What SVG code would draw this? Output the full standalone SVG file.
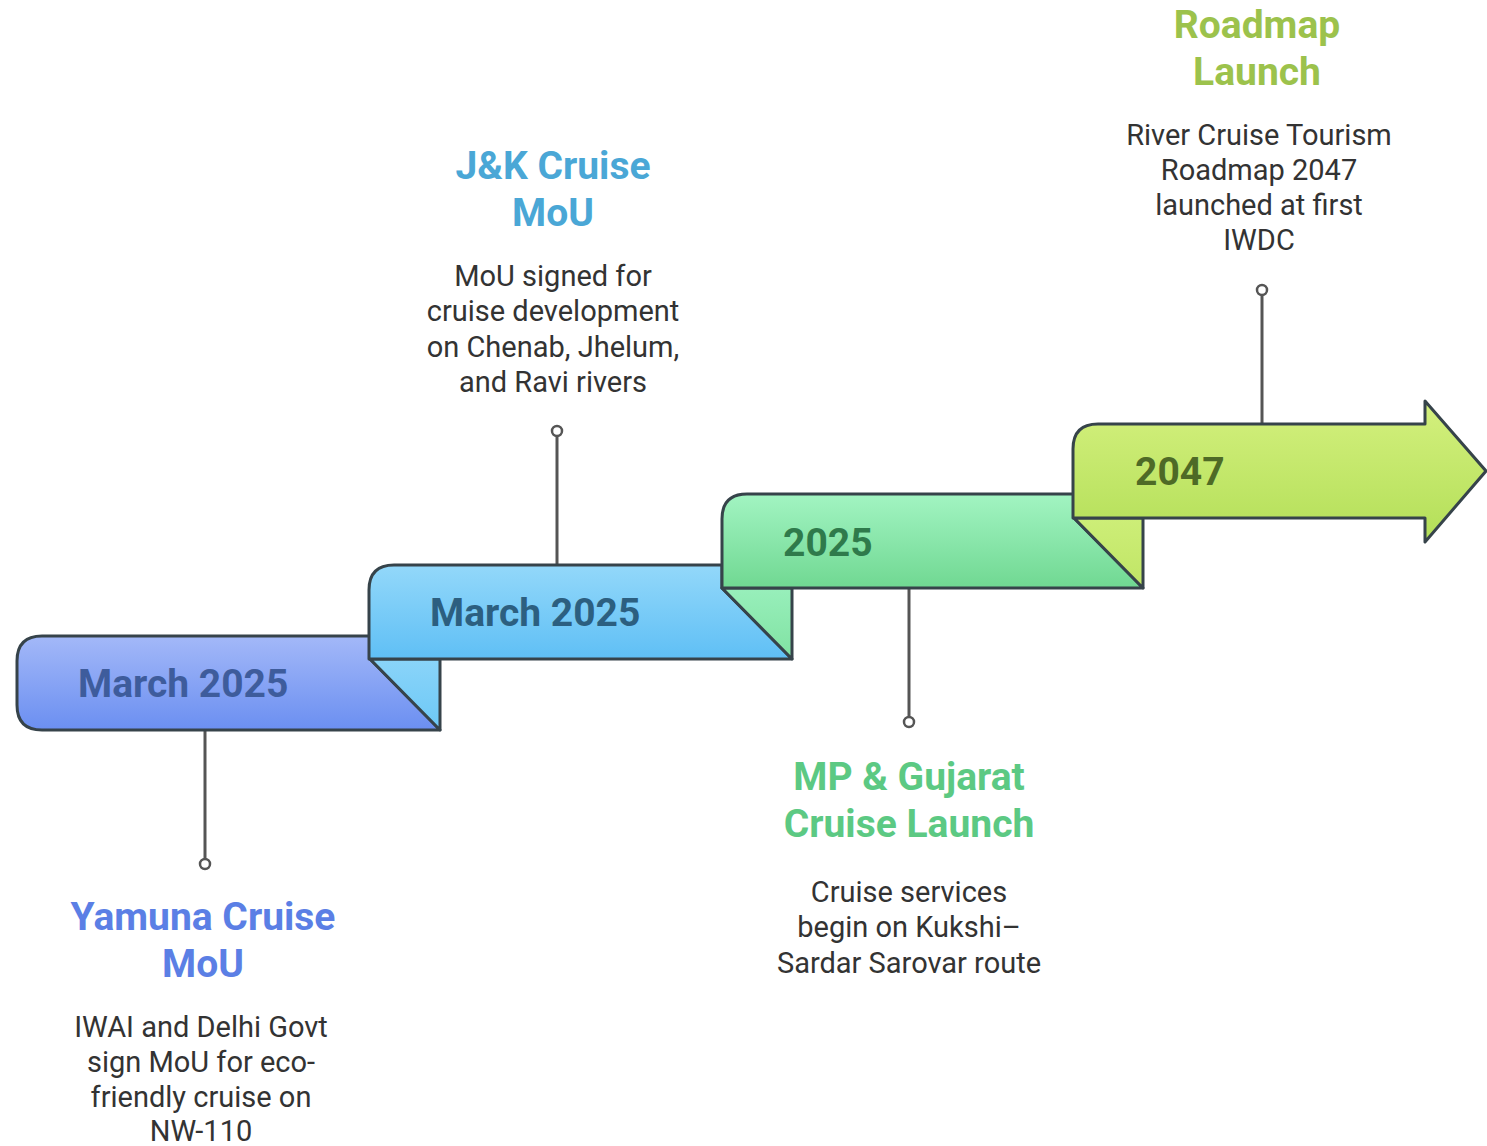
<svg xmlns="http://www.w3.org/2000/svg" width="1487" height="1146" viewBox="0 0 1487 1146">
<defs>
<linearGradient id="g1" x1="0" y1="0" x2="0" y2="1"><stop offset="0" stop-color="#a3b8f8"/><stop offset="1" stop-color="#6b8ff1"/></linearGradient>
<linearGradient id="g2" x1="0" y1="0" x2="0" y2="1"><stop offset="0" stop-color="#93d8fa"/><stop offset="1" stop-color="#5fbff5"/></linearGradient>
<linearGradient id="g3" x1="0" y1="0" x2="0" y2="1"><stop offset="0" stop-color="#a2f4c2"/><stop offset="1" stop-color="#70d892"/></linearGradient>
<linearGradient id="g4" x1="0" y1="0" x2="0" y2="1"><stop offset="0" stop-color="#d4f07e"/><stop offset="1" stop-color="#b3df58"/></linearGradient>
<linearGradient id="f2" x1="0" y1="0" x2="0" y2="1"><stop offset="0" stop-color="#8ad4f9"/><stop offset="1" stop-color="#6cc8f6"/></linearGradient>
<linearGradient id="f3" x1="0" y1="0" x2="0" y2="1"><stop offset="0" stop-color="#98efbb"/><stop offset="1" stop-color="#80e2a2"/></linearGradient>
<linearGradient id="f4" x1="0" y1="0" x2="0" y2="1"><stop offset="0" stop-color="#cdee78"/><stop offset="1" stop-color="#c0e565"/></linearGradient>
</defs>
<style>
.shape{stroke:#36434a;stroke-width:3;stroke-linejoin:round}
.yr{font-family:Roboto,"Liberation Sans",sans-serif;font-weight:700;font-size:39px}
.ttl{font-family:Roboto,"Liberation Sans",sans-serif;font-weight:700;font-size:39px;text-anchor:middle}
.dsc{font-family:Roboto,"Liberation Sans",sans-serif;font-size:29px;fill:#333333;text-anchor:middle}
.ln{stroke:#555555;stroke-width:3;fill:none}
.dot{stroke:#555555;stroke-width:2.5;fill:#ffffff}
</style>
<g id="connectors">
<line class="ln" x1="205" y1="730" x2="205" y2="859"/>
<circle class="dot" cx="205" cy="864" r="5"/>
<line class="ln" x1="557" y1="565" x2="557" y2="436"/>
<circle class="dot" cx="557" cy="431" r="5"/>
<line class="ln" x1="909" y1="588" x2="909" y2="717"/>
<circle class="dot" cx="909" cy="722" r="5"/>
<line class="ln" x1="1262" y1="424" x2="1262" y2="295"/>
<circle class="dot" cx="1262" cy="290" r="5"/>
</g>
<g id="step1">
<path class="shape" fill="url(#g1)" d="M42 636 H370 V659 L440 730 H42 Q17 730 17 705 V661 Q17 636 42 636 Z"/>
<path class="shape" fill="url(#f2)" d="M370 659 H440 V730 Z"/>
<text class="yr" x="78" y="697" fill="#3e5c9c">March 2025</text>
</g>
<g id="step2">
<path class="shape" fill="url(#g2)" d="M394 565 H722 V588 L792 659 H369 V590 Q369 565 394 565 Z"/>
<path class="shape" fill="url(#f3)" d="M722 588 H792 V659 Z"/>
<text class="yr" x="430" y="626" fill="#2c5f80">March 2025</text>
</g>
<g id="step3">
<path class="shape" fill="url(#g3)" d="M747 494 H1074 V518 L1143 588 H722 V519 Q722 494 747 494 Z"/>
<path class="shape" fill="url(#f4)" d="M1074 518 H1143 V588 Z"/>
<text class="yr" x="783" y="556" fill="#2f7a4b">2025</text>
</g>
<g id="step4">
<path class="shape" fill="url(#g4)" d="M1098 424 H1425 V401 L1486 471 L1425 542 V518 H1073 V449 Q1073 424 1098 424 Z"/>
<text class="yr" x="1135" y="485" fill="#4e6a26">2047</text>
</g>
<g id="node-yamuna">
<text class="ttl" x="203" y="930" fill="#5b7fe5">Yamuna Cruise</text>
<text class="ttl" x="203" y="977" fill="#5b7fe5">MoU</text>
<text class="dsc" x="201" y="1037">IWAI and Delhi Govt</text>
<text class="dsc" x="201" y="1072">sign MoU for eco-</text>
<text class="dsc" x="201" y="1107">friendly cruise on</text>
<text class="dsc" x="201" y="1141">NW-110</text>
</g>
<g id="node-jk">
<text class="ttl" x="553" y="179" fill="#4aa7d6">J&amp;K Cruise</text>
<text class="ttl" x="553" y="226" fill="#4aa7d6">MoU</text>
<text class="dsc" x="553" y="286">MoU signed for</text>
<text class="dsc" x="553" y="321">cruise development</text>
<text class="dsc" x="553" y="357">on Chenab, Jhelum,</text>
<text class="dsc" x="553" y="392">and Ravi rivers</text>
</g>
<g id="node-mp">
<text class="ttl" x="909" y="790" fill="#5cc983">MP &amp; Gujarat</text>
<text class="ttl" x="909" y="837" fill="#5cc983">Cruise Launch</text>
<text class="dsc" x="909" y="902">Cruise services</text>
<text class="dsc" x="909" y="937">begin on Kukshi–</text>
<text class="dsc" x="909" y="973">Sardar Sarovar route</text>
</g>
<g id="node-roadmap">
<text class="ttl" x="1257" y="38" fill="#9cc24c">Roadmap</text>
<text class="ttl" x="1257" y="85" fill="#9cc24c">Launch</text>
<text class="dsc" x="1259" y="145">River Cruise Tourism</text>
<text class="dsc" x="1259" y="180">Roadmap 2047</text>
<text class="dsc" x="1259" y="215">launched at first</text>
<text class="dsc" x="1259" y="250">IWDC</text>
</g>
</svg>
